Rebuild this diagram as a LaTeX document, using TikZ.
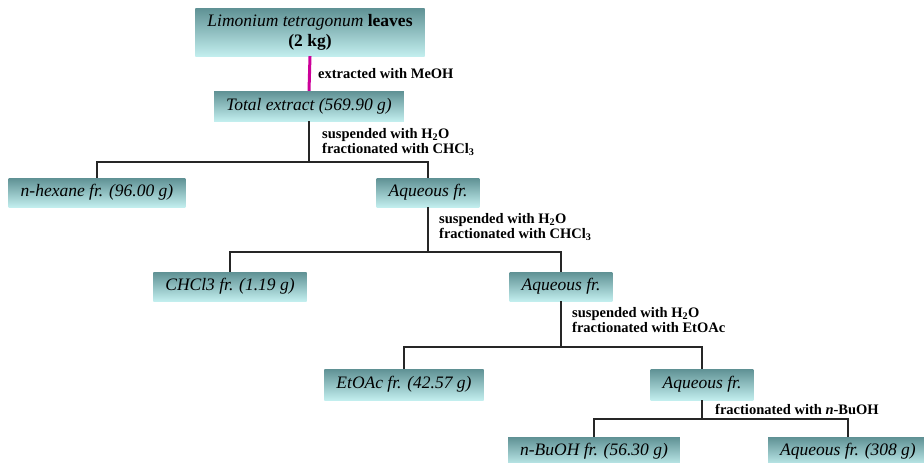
\documentclass[tikz,border=0pt]{standalone}
\usepackage{fontspec}
\setmainfont{Liberation Serif}

\definecolor{boxtop}{RGB}{95,145,148}
\definecolor{boxbot}{RGB}{194,238,238}
\definecolor{extractline}{RGB}{204,0,153}

\tikzset{
  fraction/.style={top color=boxtop, bottom color=boxbot, draw=none,
    inner xsep=12pt, inner ysep=0pt, minimum height=29pt,
    font=\fontsize{17.5}{20}\selectfont\itshape},
  steplabel/.style={anchor=west, align=left, inner sep=0pt,
    font=\fontsize{14.5}{15.5}\selectfont\bfseries},
  branch/.style={line width=1.5pt, black!85},
  extraction/.style={line width=3pt, extractline},
}

\begin{document}
\begin{tikzpicture}[x=1pt,y=-1pt]
\useasboundingbox (0,0) rectangle (924,463);

% starting material and crude extract
\node[fraction, minimum height=48pt, font=\fontsize{17.5}{20}\selectfont, align=center]
  (leaves) at (310,32) {\textit{Limonium tetragonum} \textbf{leaves}\\\textbf{(2 kg)}};
\node[fraction, minimum height=30pt] (total) at (309,106) {Total extract (569.90 g)};

% first partition
\node[fraction] (hexane) at (97,192.5) {n-hexane fr. (96.00 g)};
\node[fraction] (aq1) at (428,192.5) {Aqueous fr.};

% second partition
\node[fraction] (chcl) at (230,286.5) {CHCl3 fr. (1.19 g)};
\node[fraction] (aq2) at (561,286.5) {Aqueous fr.};

% third partition
\node[fraction, minimum height=31pt] (etoac) at (404,384.5) {EtOAc fr. (42.57 g)};
\node[fraction, minimum height=31pt] (aq3) at (702,384.5) {Aqueous fr.};

% fourth partition
\node[fraction] (buoh) at (594,451.5) {n-BuOH fr. (56.30 g)};
\node[fraction] (aq4) at (848,451.5) {Aqueous fr. (308 g)};

% branch points
\coordinate (j1) at (309,162);
\coordinate (j2) at (428,252);
\coordinate (j3) at (561,347);
\coordinate (j4) at (702,419);

% connectors
\draw[extraction] (leaves.south) -- (total.north);
\draw[branch] (total.south) -- (j1);
\draw[branch] (hexane.north) |- (j1) -| (aq1.north);
\draw[branch] (aq1.south) -- (j2);
\draw[branch] (chcl.north) |- (j2) -| (aq2.north);
\draw[branch] (aq2.south) -- (j3);
\draw[branch] (etoac.north) |- (j3) -| (aq3.north);
\draw[branch] (aq3.south) -- (j4);
\draw[branch] (buoh.north) |- (j4) -| (aq4.north);

% step labels
\node[steplabel] (s0) at (318,74) {extracted with MeOH};
\node[steplabel] (s1) at (322,142) {suspended with H\textsubscript{2}O\\fractionated with CHCl\textsubscript{3}};
\node[steplabel] (s2) at (439,227) {suspended with H\textsubscript{2}O\\fractionated with CHCl\textsubscript{3}};
\node[steplabel] (s3) at (572,320) {suspended with H\textsubscript{2}O\\fractionated with EtOAc};
\node[steplabel] (s4) at (715,409) {fractionated with \textit{n}-BuOH};
\end{tikzpicture}
\end{document}
